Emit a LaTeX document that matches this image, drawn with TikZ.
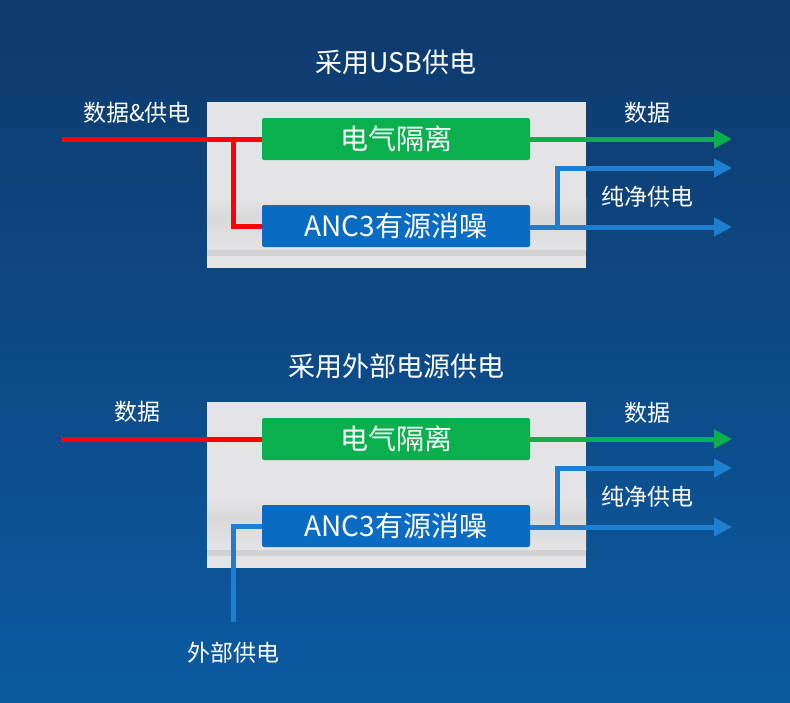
\documentclass[tikz,border=0pt]{standalone}
\usepackage{fontspec}
\setmainfont{Noto Sans CJK SC}
\usetikzlibrary{arrows.meta,positioning}
\definecolor{bgtop}{HTML}{0E3A6C}
\definecolor{bgbot}{HTML}{0B5AA0}
\definecolor{isogreen}{HTML}{0BB04E}
\definecolor{ancblue}{HTML}{0A6BC2}
\definecolor{lineblue}{HTML}{1E7FD0}
\definecolor{boxgrey}{HTML}{E4E4E6}
\begin{document}
\begin{tikzpicture}[x=1pt,y=-1pt,
	label text/.style = {text=white,font=\fontsize{23}{26}\selectfont},
	title text/.style = {text=white,font=\fontsize{27}{30}\selectfont},
	iso node/.style = {fill=isogreen,rounded corners=2pt,minimum width=268pt,minimum height=42pt,text=white,font=\fontsize{28}{30}\selectfont},
	anc node/.style = {fill=ancblue,rounded corners=2pt,minimum width=268pt,minimum height=42pt,text=white,font=\fontsize{28}{30}\selectfont},
	data line/.style = {line width=5pt,-{Triangle[length=18pt,width=18pt]}},
	red line/.style = {line width=5pt,red}]
	
	\fill[top color=bgtop,bottom color=bgbot] (0,0) rectangle (790,702);
	\useasboundingbox (0,0) rectangle (790,702);
	
	% two panels, 300pt apart
	\foreach \dy/\t in {0/upper,300/lower}{
		\fill[boxgrey] (207,102+\dy) rectangle (586,268+\dy);
		\fill[top color=boxgrey,bottom color=gray!30] (207,198+\dy) rectangle (586,218+\dy);
		\fill[top color=gray!30,bottom color=boxgrey] (207,218+\dy) rectangle (586,250+\dy);
		\fill[gray!35] (207,250+\dy) rectangle (586,256+\dy);
		\node[iso node] (iso\t) at (396,139+\dy) {电气隔离};
		\node[anc node] (anc\t) at (396,226+\dy) {ANC3有源消噪};
		\coordinate (data\t) at (732,139+\dy);
		\coordinate (pwrA\t) at (732,168+\dy);
		\coordinate (pwrB\t) at (732,227+\dy);
		\coordinate (fork\t) at (557,227+\dy);
		\node[label text] (outdata\t) at (647,113+\dy) {数据};
		\node[label text] (outpwr\t) at (647,197+\dy) {纯净供电};
		\draw[data line,isogreen] (iso\t.east) -- (data\t);
		\draw[data line,lineblue] (anc\t.east |- fork\t) -- (pwrB\t);
		\draw[data line,lineblue] (fork\t) -- (fork\t |- pwrA\t) -- (pwrA\t);
	}
	
	\node[title text] (t1) at (396,62) {采用USB供电};
	\node[label text] (in1) at (137,113) {数据\&供电};
	\coordinate (src1) at (62,139);
	\coordinate (tap1) at (233,139);
	\draw[red line] (src1) -- (isoupper.west);
	\draw[red line] (tap1) -- (tap1 |- ancupper.west) -- (ancupper.west);
	
	\node[title text] (t2) at (396,366) {采用外部电源供电};
	\node[label text] (in2) at (137,412) {数据};
	\node[label text] (in3) at (233,653) {外部供电};
	\coordinate (src2) at (62,439);
	\coordinate (ext) at (233,622);
	\draw[red line] (src2) -- (isolower.west);
	\draw[line width=5pt,lineblue] (ext) -- (233,526) -- (anclower.west);
\end{tikzpicture}
\end{document}
